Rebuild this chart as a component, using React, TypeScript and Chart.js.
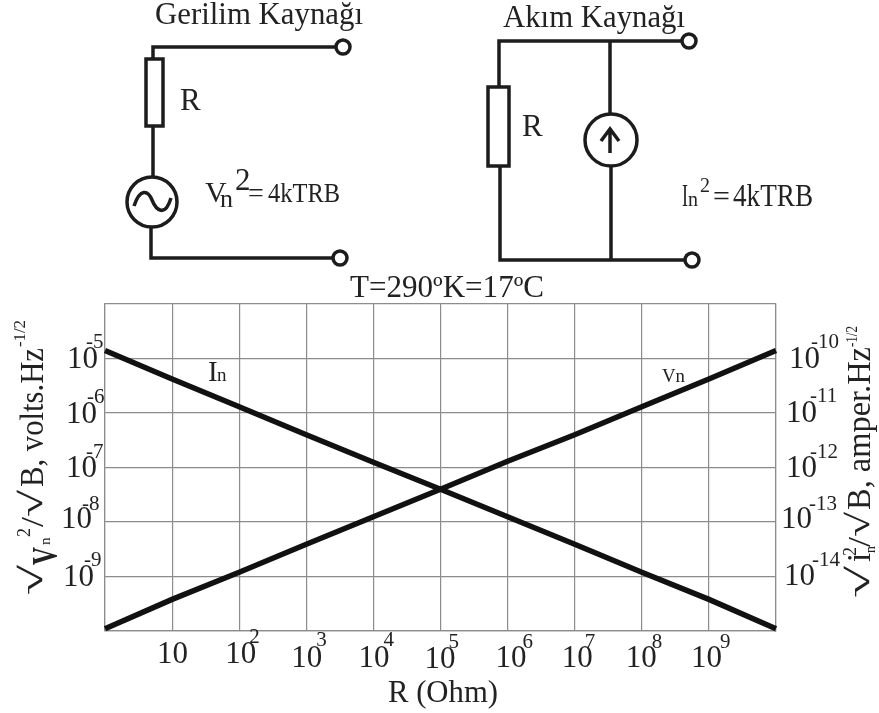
import React, { useEffect, useRef } from "react";
import { Chart, registerables } from "chart.js";

Chart.register(...registerables);

const resistance = [1, 10, 100, 1e3, 1e4, 1e5, 1e6, 1e7, 1e8, 1e9, 1e10];
const voltageNoise = [1.1e-10, 3.8e-10, 1.2e-9, 3.9e-9, 1.25e-8, 4e-8, 1.3e-7, 4e-7, 1.3e-6, 4.2e-6, 1.4e-5];
const currentNoise = [1.4e-10, 4.2e-11, 1.3e-11, 4e-12, 1.25e-12, 4e-13, 1.25e-13, 3.9e-14, 1.2e-14, 3.8e-15, 1.1e-15];
const leftTicks = [1e-4, 1e-5, 1e-6, 1e-7, 1e-8, 1e-9, 1e-10];
const rightTicks = [1e-9, 1e-10, 1e-11, 1e-12, 1e-13, 1e-14, 1e-15];
const xLabelValues = [10, 100, 1e3, 1e4, 1e5, 1e6, 1e7, 1e8, 1e9];
const xLabelExps = ["", "2", "3", "4", "5", "6", "7", "8", "9"];
const leftLabelValues = [1e-5, 1e-6, 1e-7, 1e-8, 1e-9];
const leftLabelExps = ["-5", "-6", "-7", "-8", "-9"];
const rightLabelValues = [1e-10, 1e-11, 1e-12, 1e-13, 1e-14];
const rightLabelExps = ["-10", "-11", "-12", "-13", "-14"];

// Hand-lettered label offsets: [dx from tick, baseline below axis/tick, exponent dx, exponent dy]
const xLabelLayout = [[-15, 32, 0, 0], [-14, 32, 24, -20], [-15, 36, 25, -21], [-15, 36, 25, -21], [-16, 37, 24, -20], [-12, 36, 27, -19], [-13, 36, 23, -19], [-16, 36, 26, -19], [-18, 36, 29, -19]];
const leftLabelLayout = [[-38, 9, 19, -20], [-39, 10, 21, -20], [-39, 9, 20, -19], [-44, 6, 21, -18], [-42, 9, 21, -20]];
const rightLabelLayout = [[13, 9, 22, -20], [10, 9, 24, -20], [10, 9, 24, -19], [5, 6, 28, -18], [8, 8, 28, -19]];

const INK = "#222";
const SERIF = "'Liberation Serif', serif";

const tickLabelPlugin = {
  id: "tickLabels",
  afterDraw(chart: any) {
    const { ctx, chartArea, scales } = chart;
    const draw = (x: number, y: number, exp: string, dx: number, dy: number) => {
      ctx.font = `31px ${SERIF}`;
      ctx.fillText("10", x, y);
      if (exp) {
        ctx.font = `21px ${SERIF}`;
        ctx.fillText(exp, x + dx, y + dy);
      }
    };
    ctx.save();
    ctx.fillStyle = INK;
    ctx.textAlign = "left";
    ctx.textBaseline = "alphabetic";
    xLabelValues.forEach((v, i) => {
      const [ox, oy, dx, dy] = xLabelLayout[i];
      draw(scales.x.getPixelForValue(v) + ox, chartArea.bottom + oy, xLabelExps[i], dx, dy);
    });
    leftLabelValues.forEach((v, i) => {
      const [ox, oy, dx, dy] = leftLabelLayout[i];
      draw(chartArea.left + ox, scales.y.getPixelForValue(v) + oy, leftLabelExps[i], dx, dy);
    });
    rightLabelValues.forEach((v, i) => {
      const [ox, oy, dx, dy] = rightLabelLayout[i];
      draw(chartArea.right + ox, scales.y2.getPixelForValue(v) + oy, rightLabelExps[i], dx, dy);
    });
    ctx.restore();
  },
};

const decades = (values: number[]) => (scale: any) => {
  scale.ticks = values.map((value) => ({ value }));
};

const GRID = "#8c8c8c";

function T({ x, y, size, children, len, weight }: any) {
  return (
    <text x={x} y={y} fontSize={size} fontWeight={weight} textLength={len} lengthAdjust={len ? "spacingAndGlyphs" : undefined}>
      {children}
    </text>
  );
}

function Circuits() {
  const wire = { fill: "none", stroke: "#1c1c1c", strokeWidth: 3.5 };
  return (
    <svg width={879} height={713} style={{ position: "absolute", left: 0, top: 0, pointerEvents: "none" }} fontFamily={SERIF} fill={INK}>
      <T x={155} y={24} size={31} len={208}>Gerilim Kaynağı</T>
      <T x={503} y={27} size={31} len={182}>Akım Kaynağı</T>
      <T x={350} y={297} size={31} len={194}>T=290ºK=17ºC</T>

      <path d="M153 59V47H337M153 126V176M151 228V258H333" {...wire} />
      <rect x={146} y={59} width={17} height={67} {...wire} />
      <circle cx={343} cy={47} r={7} {...wire} />
      <circle cx={340} cy={258} r={7} {...wire} />
      <circle cx={152} cy={202} r={25} {...wire} />
      <path d="M134 206C140 188 148 190 152 200S165 218 171 198" {...wire} />
      <T x={180} y={110} size={31}>R</T>
      <T x={205} y={202} size={30}>V</T>
      <T x={220} y={207} size={26}>n</T>
      <T x={235} y={190} size={31}>2</T>
      <T x={248} y={202} size={28}>=</T>
      <T x={268} y={202} size={28} len={72}>4kTRB</T>

      <path d="M499 87V41H682M610 41V113M500 166V260H685M611 167V260" {...wire} />
      <rect x={488} y={87} width={21} height={79} {...wire} />
      <circle cx={689} cy={41} r={7} {...wire} />
      <circle cx={692} cy={260} r={7} {...wire} />
      <circle cx={611} cy={140} r={26} {...wire} />
      <path d="M610 153V130M601 141L610 129L619 141" {...wire} />
      <T x={522} y={136} size={31}>R</T>
      <T x={682} y={206} size={31} len={6}>I</T>
      <T x={688} y={206} size={20} len={10}>n</T>
      <T x={700} y={192} size={20}>2</T>
      <T x={713} y={206} size={30}>=</T>
      <T x={733} y={206} size={31} len={80}>4kTRB</T>

      <T x={208} y={381} size={29}>I</T>
      <T x={217} y={381} size={19}>n</T>
      <T x={662} y={382} size={19} len={23}>Vn</T>
      <T x={388} y={702} size={31} len={110}>R (Ohm)</T>

      <g transform="translate(43,595) rotate(-90)">
        <T x={0} y={-1} size={32} len={30}>√</T>
        <T x={30} y={14} size={36} len={18} weight="bold">V</T>
        <T x={50} y={7} size={15}>n</T>
        <T x={58} y={-13} size={18}>2</T>
        <T x={68} y={0} size={32} len={10}>/</T>
        <T x={78} y={-1} size={32} len={27}>√</T>
        <T x={108} y={0} size={33} len={139}>B, volts.Hz</T>
        <T x={248} y={-18} size={17} len={27}>-1/2</T>
      </g>
      <g transform="translate(870,598) rotate(-90)">
        <T x={0} y={-1} size={32} len={32}>√</T>
        <T x={36} y={0} size={33}>i</T>
        <T x={45} y={5} size={14}>n</T>
        <T x={42} y={-14} size={18}>2</T>
        <T x={51} y={0} size={32} len={10}>/</T>
        <T x={61} y={-1} size={32} len={25}>√</T>
        <T x={88} y={0} size={33} len={163}>B, amper.Hz</T>
        <T x={251} y={-13} size={17} len={21}>-1/2</T>
      </g>
    </svg>
  );
}

export default function App() {
  const ref = useRef<HTMLCanvasElement>(null);
  useEffect(() => {
    const chart = new Chart(ref.current!, {
      type: "line",
      data: {
        datasets: [
          {
            label: "Vn",
            data: resistance.map((x, i) => ({ x, y: voltageNoise[i] })),
            yAxisID: "y",
            borderColor: "#111",
            borderWidth: 5.5,
            pointRadius: 0,
            clip: false,
          },
          {
            label: "In",
            data: resistance.map((x, i) => ({ x, y: currentNoise[i] })),
            yAxisID: "y2",
            borderColor: "#111",
            borderWidth: 5.5,
            pointRadius: 0,
            clip: false,
          },
        ],
      },
      options: {
        responsive: false,
        animation: false,
        layout: { padding: { left: 105, right: 103, top: 304, bottom: 82 } },
        plugins: { legend: { display: false }, tooltip: { enabled: false }, title: { display: false } },
        scales: {
          x: {
            type: "logarithmic",
            min: 1,
            max: 1e10,
            afterBuildTicks: decades(resistance),
            ticks: { display: false },
            grid: { color: GRID, lineWidth: 1.2, drawTicks: false },
            border: { color: GRID, width: 1.2 },
          },
          y: {
            type: "logarithmic",
            position: "left",
            min: 1e-10,
            max: 1e-4,
            afterBuildTicks: decades(leftTicks),
            ticks: { display: false },
            grid: { color: GRID, lineWidth: 1.2, drawTicks: false },
            border: { color: GRID, width: 1.2 },
          },
          y2: {
            type: "logarithmic",
            position: "right",
            min: 1e-15,
            max: 1e-9,
            afterBuildTicks: decades(rightTicks),
            ticks: { display: false },
            grid: { display: false, drawTicks: false },
            border: { color: GRID, width: 1.2 },
          },
        },
      } as any,
      plugins: [tickLabelPlugin],
    });
    return () => chart.destroy();
  }, []);
  return (
    <div style={{ position: "absolute", left: 0, top: 0, width: 879, height: 713, background: "#fff", overflow: "hidden", filter: "blur(0.4px)" }}>
      <canvas ref={ref} width={879} height={713} style={{ display: "block" }} />
      <Circuits />
    </div>
  );
}
